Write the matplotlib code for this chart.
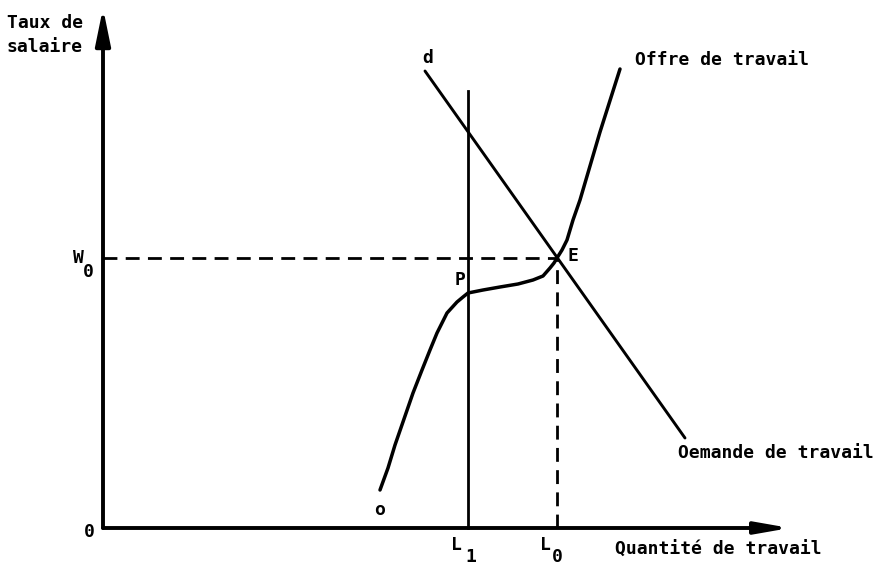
"""
Marché du travail : offre coudée, demande linéaire, équilibre E et point P.
"""
import matplotlib
matplotlib.use("Agg")
import matplotlib.pyplot as plt

# quantities / wages in chart units
L1 = 36.5
L0 = 45.4
W0 = 27.0
X_TIP = 68.7
Y_TIP = 52.0
L1_TOP = 43.7

demand_x = [32.2, 58.2]
demand_y = [45.7, 9.0]

supply_x = [27.7, 28.5, 29.2, 30.1, 31.0, 31.9, 32.7, 33.4, 34.4, 35.4, 36.0,
            36.5, 38.0, 39.7, 41.5, 43.0, 44.0, 44.7, 45.1, 45.4, 45.9, 46.4,
            47.0, 47.7, 48.7, 49.7, 51.7]
supply_y = [3.8, 6.0, 8.3, 10.9, 13.5, 15.8, 17.8, 19.5, 21.5, 22.6, 23.1,
            23.5, 23.8, 24.1, 24.4, 24.8, 25.2, 26.0, 26.5, 27.0, 27.8, 28.8,
            30.8, 32.8, 36.2, 39.6, 45.9]

FONT = dict(family="DejaVu Sans Mono", fontweight="bold", fontsize=13, color="black")

fig = plt.figure(figsize=(8.85, 5.67), dpi=100)
ax = fig.add_axes([0, 0, 1, 1])
ax.set_xlim(-10.3, 78.2)
ax.set_ylim(-3.9, 52.8)
ax.axis("off")

# axes with arrowheads
ax.annotate("", xy=(0, Y_TIP), xytext=(0, 0),
            arrowprops=dict(arrowstyle="-|>,head_length=2.2,head_width=0.45",
                            lw=2.8, color="black", shrinkA=0, shrinkB=0))
ax.annotate("", xy=(X_TIP, 0), xytext=(0, 0),
            arrowprops=dict(arrowstyle="-|>,head_length=2.0,head_width=0.35",
                            lw=2.8, color="black", shrinkA=0, shrinkB=0))

# curves
ax.plot(demand_x, demand_y, color="black", lw=2.1, solid_capstyle="round")
ax.plot(supply_x, supply_y, color="black", lw=2.5, solid_joinstyle="round",
        solid_capstyle="round")
ax.plot([L1, L1], [0, L1_TOP], color="black", lw=2.0)

# dashed guides to E
ax.plot([0, L0], [W0, W0], color="black", lw=2.0, dashes=(5, 3))
ax.plot([L0, L0], [0, W0], color="black", lw=2.0, dashes=(5, 3))

# labels
ax.text(-9.6, 50.5, "Taux de", ha="left", va="center", **FONT)
ax.text(-9.6, 48.1, "salaire", ha="left", va="center", **FONT)
ax.text(32.5, 47.0, "d", ha="center", va="center", **FONT)
ax.text(53.2, 46.8, "Offre de travail", ha="left", va="center", **FONT)
ax.text(57.5, 7.5, "Oemande de travail", ha="left", va="center", **FONT)
ax.text(47.0, 27.2, "E", ha="center", va="center", **FONT)
ax.text(35.7, 24.8, "P", ha="center", va="center", **FONT)
ax.text(27.7, 1.8, "o", ha="center", va="center", **FONT)
ax.text(-1.4, -0.4, "0", ha="center", va="center", **FONT)
ax.text(-2.5, 27.0, "W", ha="center", va="center", **FONT)
ax.text(-1.5, 25.6, "0", ha="center", va="center", **FONT)
ax.text(35.3, -1.7, "L", ha="center", va="center", **FONT)
ax.text(36.8, -2.9, "1", ha="center", va="center", **FONT)
ax.text(44.2, -1.7, "L", ha="center", va="center", **FONT)
ax.text(45.4, -2.9, "0", ha="center", va="center", **FONT)
ax.text(51.2, -2.2, "Quantité de travail", ha="left", va="center", **FONT)

fig.savefig("out.png", dpi=100)
